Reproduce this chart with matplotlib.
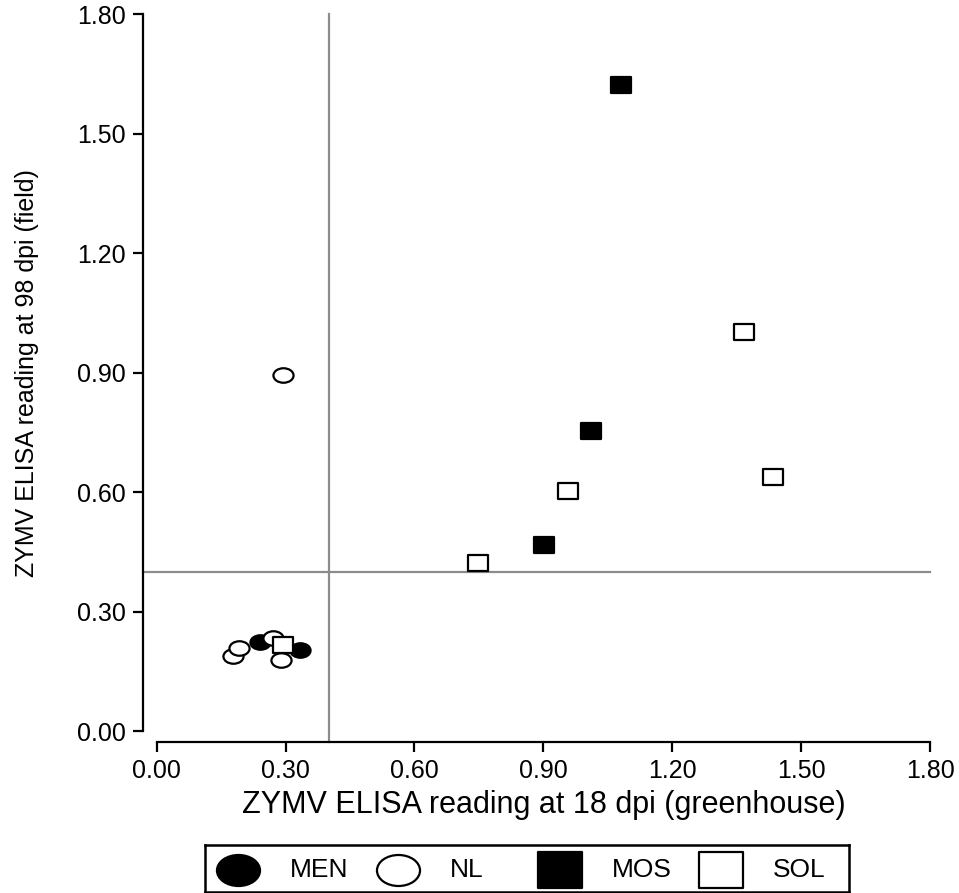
import matplotlib
matplotlib.use("Agg")
import matplotlib.pyplot as plt
from matplotlib.path import Path
from matplotlib.transforms import Affine2D

# ELISA readings: greenhouse (18 dpi) vs field (98 dpi)
men_x = [0.241, 0.334]
men_y = [0.223, 0.204]
nl_x = [0.178, 0.191, 0.270, 0.289, 0.293]
nl_y = [0.189, 0.209, 0.233, 0.179, 0.895]
mos_x = [1.081, 1.010, 0.902]
mos_y = [1.624, 0.754, 0.468]
sol_x = [1.368, 0.957, 1.434, 0.747, 0.293]
sol_y = [1.002, 0.604, 0.639, 0.422, 0.216]

groups = ["MEN", "NL", "MOS", "SOL"]
ticks = [0.0, 0.3, 0.6, 0.9, 1.2, 1.5, 1.8]
cutoff = 0.40

plt.rcParams['font.family'] = ['Liberation Sans', 'DejaVu Sans']


def flat_box(r):
    return Path([(-1, -r), (1, -r), (1, r), (-1, r), (-1, -r)],
                [Path.MOVETO, Path.LINETO, Path.LINETO, Path.LINETO, Path.CLOSEPOLY])


def flat_circle(r):
    return Path.unit_circle().transformed(Affine2D().scale(1, r))


# stretched markers, wider than tall
def style(g, r_circ, r_box):
    return {
        "MEN": dict(marker=flat_circle(r_circ), mfc="black"),
        "NL": dict(marker=flat_circle(r_circ), mfc="white"),
        "MOS": dict(marker=flat_box(r_box), mfc="black"),
        "SOL": dict(marker=flat_box(r_box), mfc="white"),
    }[g]


data = {"MEN": (men_x, men_y), "NL": (nl_x, nl_y),
        "MOS": (mos_x, mos_y), "SOL": (sol_x, sol_y)}

fig = plt.figure(figsize=(9.59, 8.93), dpi=100)
ax = fig.add_axes([0.1634, 0.1814, 0.8064, 0.8024])

ax.set_xlim(0, 1.8)
ax.set_ylim(0, 1.8)

# cut-off lines run out to the offset spines
left_off, bottom_off = 13.7, 11.0  # px
xext = left_off / (0.8064 * 959) * 1.8
yext = bottom_off / (0.8024 * 893) * 1.8
ax.plot([cutoff, cutoff], [-yext, 1.8], color="#8c8c8c", lw=1.6,
        clip_on=False, zorder=1)
ax.plot([-xext, 1.8], [cutoff, cutoff], color="#8c8c8c", lw=1.6,
        clip_on=False, zorder=1)

for g in groups:
    xs, ys = data[g]
    ax.plot(xs, ys, ls="none", mec="black", mew=1.6, ms=14.5,
            zorder=3, clip_on=False, **style(g, 0.72, 0.79))

for s in ["top", "right"]:
    ax.spines[s].set_visible(False)
ax.spines["left"].set_position(("outward", left_off * 0.72))
ax.spines["bottom"].set_position(("outward", bottom_off * 0.72))
ax.spines["left"].set_bounds(0, 1.8)
ax.spines["bottom"].set_bounds(0, 1.8)
for s in ["left", "bottom"]:
    ax.spines[s].set_linewidth(1.6)

ax.set_xticks(ticks)
ax.set_yticks(ticks)
ax.set_xticklabels(["%.2f" % t for t in ticks])
ax.set_yticklabels(["%.2f" % t for t in ticks])
ax.tick_params(length=7.5, width=1.6, labelsize=18, pad=5)

ax.set_xlabel("ZYMV ELISA reading at 18 dpi (greenhouse)", fontsize=22,
              labelpad=5)
ax.set_ylabel("ZYMV ELISA reading at 98 dpi (field)", fontsize=18,
              labelpad=27)

# legend box along the bottom
lx0, lx1, ly0, ly1 = 205, 849, 1, 48  # px
lax = fig.add_axes([lx0 / 959, ly0 / 893, (lx1 - lx0) / 959, (ly1 - ly0) / 893])
lax.set_xlim(lx0, lx1)
lax.set_ylim(0, 1)
lax.set_xticks([])
lax.set_yticks([])
for s in lax.spines.values():
    s.set_linewidth(1.8)
handle_pos = [238, 398, 560, 721]
for g, hx in zip(groups, handle_pos):
    lax.plot([hx], [0.47], ls="none", mec="black", mew=1.6, ms=31,
             clip_on=False, **style(g, 0.72, 0.85))
    lax.text(hx + 52, 0.47, g, ha="left", va="center", fontsize=19)

fig.savefig("out.png", dpi=100)
